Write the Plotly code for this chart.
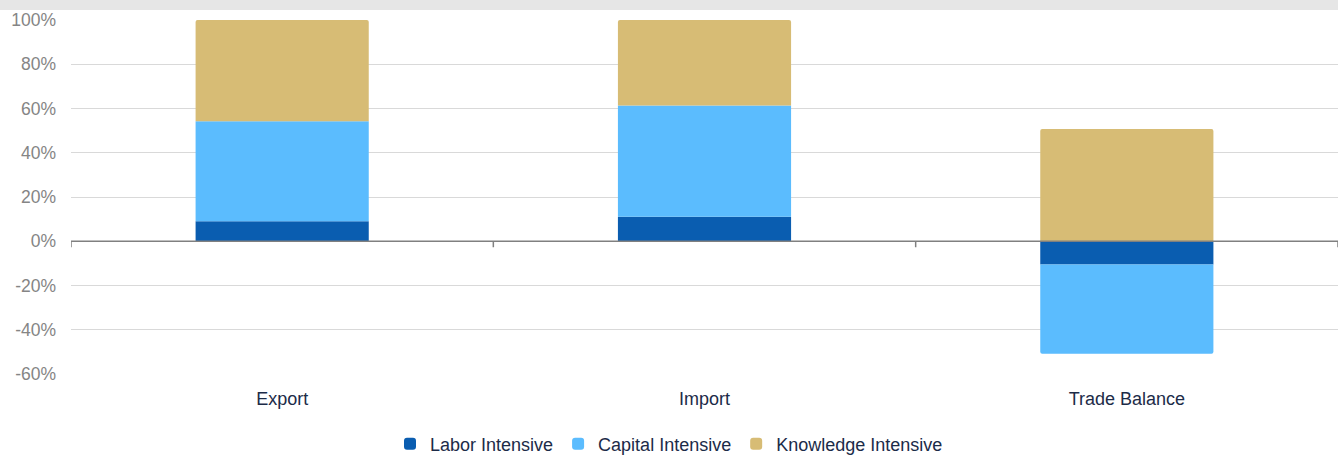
import plotly.graph_objects as go

# Share of trade by factor intensity (%)
categories = ["Export", "Import", "Trade Balance"]
labor = [9.0, 11.1, -10.5]
capital = [45.2, 50.3, -40.3]
knowledge = [45.8, 38.6, 50.7]
y_ticks = [-60, -40, -20, 0, 20, 40, 60, 80, 100]
y_tick_text = [f"{v}%" for v in y_ticks]

series = [
    ("Labor Intensive", labor, "#0a5db0"),
    ("Capital Intensive", capital, "#5bbcfe"),
    ("Knowledge Intensive", knowledge, "#d7bc75"),
]

FONT = "Liberation Sans, Arial, sans-serif"
TEXT = "#1c2b48"

fig = go.Figure()
for name, vals, color in series:
    fig.add_trace(go.Bar(
        name=name, x=categories, y=vals,
        marker=dict(color=color, line=dict(width=0)),
    ))

# horizontal axis line at zero with category-boundary ticks
shapes = [
    dict(type="line", xref="paper", yref="y", x0=0, x1=1, y0=0, y1=0,
         line=dict(color="#808080", width=1.5), layer="above"),
    dict(type="rect", xref="paper", yref="paper", x0=-0.1, x1=1.1,
         ysizemode="pixel", yanchor=1, y0=10, y1=21,
         fillcolor="#e6e6e6", line=dict(width=0), layer="below"),
]
for b in [-0.5, 0.5, 1.5, 2.5]:
    shapes.append(dict(type="line", xref="x", yref="y", x0=b, x1=b,
                       ysizemode="pixel", yanchor=0, y0=0, y1=-6,
                       line=dict(color="#808080", width=1.5)))

fig.update_layout(
    width=1338, height=455,
    margin=dict(l=71, r=0, t=20, b=81, autoexpand=False),
    paper_bgcolor="white", plot_bgcolor="white",
    barmode="relative", bargap=0.59,
    barcornerradius=2,
    font=dict(family=FONT, size=18, color=TEXT),
    showlegend=True,
    legend=dict(orientation="h", xref="container", x=0.5, xanchor="center",
                yref="container", y=0.024, yanchor="middle",
                font=dict(family=FONT, size=18, color=TEXT),
                itemwidth=30, traceorder="normal"),
    shapes=shapes,
    xaxis=dict(showgrid=False, showline=False, ticks="",
               ticklabelstandoff=12,
               tickfont=dict(family=FONT, size=18, color=TEXT),
               range=[-0.5, 2.5]),
    yaxis=dict(range=[-60, 100], tickmode="array", tickvals=y_ticks,
               ticktext=y_tick_text,
               showgrid=True, gridcolor="#d9d9d9", gridwidth=1,
               zeroline=False, showline=False, ticks="",
               ticklabelstandoff=14,
               tickfont=dict(family=FONT, size=17.5, color="#858585")),
)

fig.write_html("out.html")
